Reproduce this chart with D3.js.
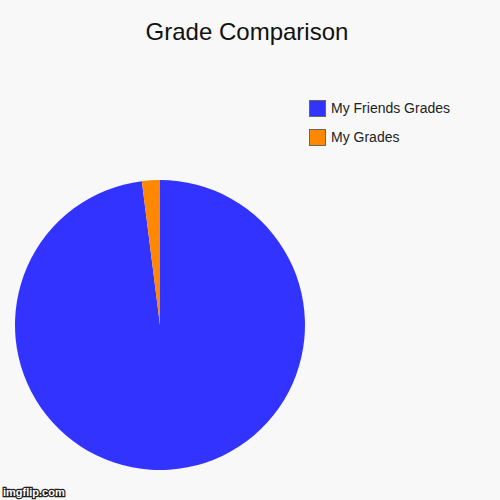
<!DOCTYPE html>
<html lang='en'>
<head>
    <meta charset='UTF-8' />
    <title>Grade Comparison</title>
    <script src="https://cdn.jsdelivr.net/npm/d3@7"></script>
    <style>
        html,
        body {
            margin: 0;
            background: #f8f8f8;
        }
    </style>
</head>
<body>
    <div id="container"></div>
    <script>
        // chart data
        const labels = ["My Friends Grades", "My Grades"];
        const values = [98, 2];
        const colors = ["#3333ff", "#ff8800"];

        const width = 500, height = 500;
        const cx = 160, cy = 325, radius = 145;

        const svg = d3.select("#container")
            .append("svg")
            .attr("width", width)
            .attr("height", height)
            .style("font-family", "Arial, 'Liberation Sans', sans-serif");

        svg.append("rect")
            .attr("width", width)
            .attr("height", height)
            .attr("fill", "#f8f8f8");

        svg.append("text")
            .attr("x", 247)
            .attr("y", 40)
            .attr("text-anchor", "middle")
            .attr("font-size", 24)
            .attr("fill", "#111")
            .text("Grade Comparison");

        // pie slices, first slice drawn clockwise from the top
        const pie = d3.pie()
            .sort(null)
            .value(d => d);

        const arc = d3.arc()
            .innerRadius(0)
            .outerRadius(radius);

        svg.append("g")
            .attr("transform", `translate(${cx},${cy})`)
            .selectAll("path")
            .data(pie(values))
            .join("path")
            .attr("d", arc)
            .attr("fill", (d, i) => colors[i]);

        // legend
        const legend = svg.append("g")
            .selectAll("g")
            .data(labels)
            .join("g")
            .attr("transform", (d, i) => `translate(309,${100 + i * 29})`);

        legend.append("rect")
            .attr("x", 0.5)
            .attr("y", 0.5)
            .attr("width", 16)
            .attr("height", 16)
            .attr("fill", (d, i) => colors[i])
            .attr("stroke", "#666")
            .attr("stroke-width", 1);

        legend.append("text")
            .attr("x", 22)
            .attr("y", 13)
            .attr("font-size", 14)
            .attr("fill", "#222")
            .text(d => d);

        // watermark
        svg.append("text")
            .attr("x", 3)
            .attr("y", 496)
            .attr("font-size", 11)
            .attr("font-weight", "bold")
            .attr("fill", "#fff")
            .attr("stroke", "#222")
            .attr("stroke-width", 2.5)
            .attr("paint-order", "stroke")
            .text("imgflip.com");
    </script>
</body>
</html>
